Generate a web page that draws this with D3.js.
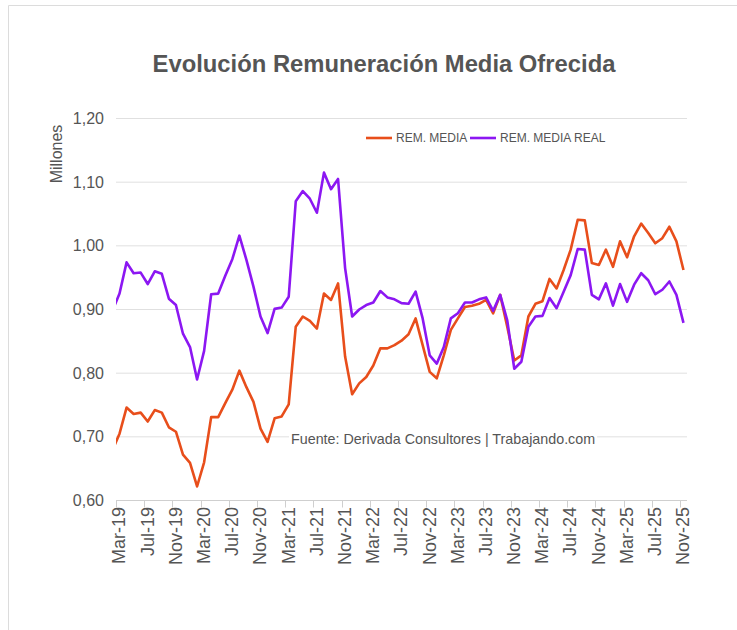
<!DOCTYPE html>
<html>
<head>
<meta charset="utf-8">
<script src="https://cdn.jsdelivr.net/npm/d3@7"></script>
<style>
  body { margin: 0; background: #fff; }
  text { font-family: Arial, "Liberation Sans", sans-serif; }
</style>
</head>
<body>
<svg id="chart" width="737" height="630"></svg>
<script>
const TITLE = "Evolución Remuneración Media Ofrecida";
const SOURCE = "Fuente: Derivada Consultores | Trabajando.com";
const Y_TITLE = "Millones";
const MONTH_NAMES = ["Ene", "Feb", "Mar", "Abr", "May", "Jun", "Jul", "Ago", "Sep", "Oct", "Nov", "Dic"];

// series start Feb-19 (only partly visible at the left edge), end Nov-25
const remMedia = [
  0.679,
  0.705, 0.746, 0.736, 0.738, 0.724, 0.742, 0.738, 0.715, 0.708, 0.672,
  0.659, 0.622, 0.660, 0.731, 0.731, 0.753, 0.774, 0.804, 0.778, 0.755,
  0.713, 0.692, 0.729, 0.732, 0.751, 0.873, 0.889, 0.882, 0.870, 0.925,
  0.915, 0.941, 0.826, 0.767, 0.784, 0.794, 0.812, 0.839, 0.839, 0.844,
  0.851, 0.861, 0.886, 0.844, 0.802, 0.792, 0.828, 0.868, 0.886, 0.904,
  0.906, 0.909, 0.915, 0.894, 0.923, 0.873, 0.820, 0.828, 0.889, 0.909,
  0.913, 0.948, 0.933, 0.962, 0.994, 1.041, 1.040, 0.973, 0.970, 0.994,
  0.967, 1.007, 0.982, 1.015, 1.035, 1.020, 1.004, 1.012, 1.030, 1.007,
  0.962
];
const remMediaReal = [
  0.898,
  0.925, 0.974, 0.957, 0.958, 0.940, 0.960, 0.956, 0.917, 0.907, 0.862,
  0.841, 0.790, 0.835, 0.924, 0.925, 0.953, 0.979, 1.016, 0.978, 0.936,
  0.889, 0.863, 0.901, 0.903, 0.920, 1.070, 1.086, 1.074, 1.052, 1.115,
  1.089, 1.105, 0.965, 0.889, 0.900, 0.907, 0.911, 0.929, 0.919, 0.916,
  0.910, 0.909, 0.928, 0.886, 0.828, 0.815, 0.841, 0.886, 0.894, 0.911,
  0.911, 0.916, 0.919, 0.898, 0.923, 0.883, 0.807, 0.818, 0.873, 0.889,
  0.890, 0.918, 0.902, 0.928, 0.954, 0.995, 0.994, 0.923, 0.916, 0.941,
  0.906, 0.940, 0.912, 0.939, 0.957, 0.946, 0.924, 0.931, 0.944, 0.923,
  0.879
];
const yTicks = [0.6, 0.7, 0.8, 0.9, 1.0, 1.1, 1.2];

const series = [
  { name: "REM. MEDIA", values: remMedia, color: "#e84e1b" },
  { name: "REM. MEDIA REAL", values: remMediaReal, color: "#8c17f2" }
];

// month labels, index -1 = Feb-19, 0 = Mar-19 ...
const labels = remMedia.map((_, i) => {
  const m = 1 + i;
  return MONTH_NAMES[m % 12] + "-" + String(2019 + Math.floor(m / 12)).slice(2);
});
const firstIdx = -1;
const lastIdx = remMedia.length - 2;

const svg = d3.select("#chart");
const plotL = 116, plotR = 687, plotT = 118.5, plotB = 500.5;

// frame
svg.append("path")
  .attr("d", "M8.5,630V5.5H737")
  .attr("fill", "none")
  .attr("stroke", "#dcdcdc");

const x = d3.scaleLinear().domain([-0.5, lastIdx + 0.5]).range([plotL, plotR]);
const y = d3.scaleLinear().domain([0.6, 1.2]).range([plotB, plotT]);

svg.append("text")
  .attr("x", 384).attr("y", 71.5)
  .attr("text-anchor", "middle")
  .attr("font-size", 23.8).attr("font-weight", "bold")
  .attr("fill", "#555")
  .text(TITLE);

// grid
svg.append("g").selectAll("line").data(yTicks).join("line")
  .attr("x1", plotL).attr("x2", plotR)
  .attr("y1", d => y(d)).attr("y2", d => y(d))
  .attr("stroke", d => d === 0.6 ? "#cfcfcf" : "#e0e0e0");

svg.append("g").selectAll("text").data(yTicks).join("text")
  .attr("x", 104).attr("y", d => y(d)).attr("dy", "0.35em")
  .attr("text-anchor", "end").attr("font-size", 16).attr("fill", "#555")
  .text(d => d3.format(".2f")(d).replace(".", ","));

svg.append("text")
  .attr("transform", "translate(62,154) rotate(-90)")
  .attr("text-anchor", "middle").attr("font-size", 16).attr("fill", "#555")
  .text(Y_TITLE);

// x ticks every 4 months from Mar-19
const tickIdx = d3.range(0, lastIdx + 1, 4);
svg.append("g").selectAll("line").data(tickIdx).join("line")
  .attr("x1", d => Math.round(x(d - 0.5)) + 0.5).attr("x2", d => Math.round(x(d - 0.5)) + 0.5)
  .attr("y1", plotB).attr("y2", plotB + 7)
  .attr("stroke", "#cfcfcf");

svg.append("g").selectAll("text").data(tickIdx).join("text")
  .attr("transform", d => `translate(${x(d) - 0.5},507) rotate(-90)`)
  .attr("dy", "0.35em")
  .attr("text-anchor", "end").attr("font-size", 18).attr("fill", "#555")
  .text(d => labels[d + 1]);

// source note with white backing
const note = svg.append("g");
const noteText = note.append("text")
  .attr("x", 291).attr("y", 443.5)
  .attr("font-size", 14.3).attr("fill", "#555")
  .text(SOURCE);
const bb = noteText.node().getBBox();
note.insert("rect", "text")
  .attr("x", bb.x - 2).attr("y", bb.y).attr("width", bb.width + 4).attr("height", bb.height)
  .attr("fill", "#fff");

// lines
svg.append("clipPath").attr("id", "plot")
  .append("rect").attr("x", plotL).attr("y", 0).attr("width", plotR - plotL).attr("height", 630);

const line = d3.line()
  .x((d, i) => x(i + firstIdx))
  .y(d => y(d));

svg.append("g").attr("clip-path", "url(#plot)")
  .selectAll("path").data(series).join("path")
  .attr("d", d => line(d.values))
  .attr("fill", "none")
  .attr("stroke", d => d.color)
  .attr("stroke-width", 2.6)
  .attr("stroke-linejoin", "round");

// legend
const legend = svg.append("g").attr("transform", "translate(366,138)");
const items = legend.selectAll("g").data(series).join("g")
  .attr("transform", (d, i) => `translate(${i * 104},0)`);
items.append("line")
  .attr("x1", 0).attr("x2", 26)
  .attr("stroke", d => d.color).attr("stroke-width", 2.6);
items.append("text")
  .attr("x", 30).attr("dy", "0.35em")
  .attr("font-size", 12).attr("fill", "#555")
  .text(d => d.name);
</script>
</body>
</html>
